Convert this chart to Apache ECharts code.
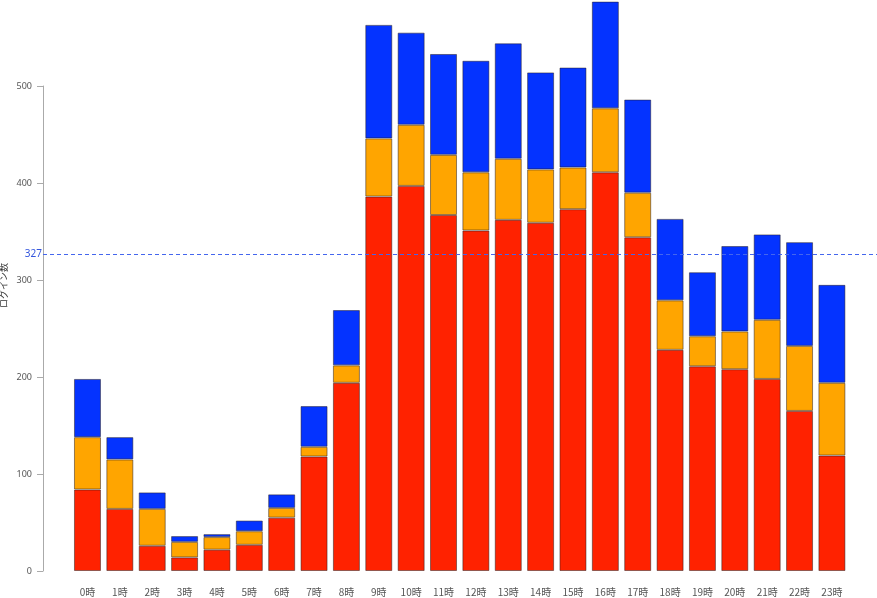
<!DOCTYPE html>
<html>
<head>
<meta charset="utf-8">
<script src="https://cdn.jsdelivr.net/npm/echarts@6/dist/echarts.min.js"></script>
<style>html,body{margin:0;padding:0;background:#fff}#c{width:877px;height:598px}</style>
</head>
<body>
<div id="c"></div>
<script>
const categories = ['0時','1時','2時','3時','4時','5時','6時','7時','8時','9時','10時','11時','12時','13時','14時','15時','16時','17時','18時','19時','20時','21時','22時','23時'];
const redValues    = [84, 64, 26, 14, 22, 27, 55, 118, 194, 386, 397, 367, 351, 362, 359, 373, 411, 344, 228, 211, 208, 198, 165, 119];
const orangeValues = [54, 51, 38, 16, 13, 14, 10, 10, 18, 60, 63, 62, 60, 63, 55, 43, 66, 46, 51, 31, 39, 61, 67, 75];
const blueValues   = [60, 23, 17, 6, 3, 11, 14, 42, 57, 117, 95, 104, 115, 119, 100, 103, 110, 96, 84, 66, 88, 88, 107, 101];
const averageValue = 327;
const yTicks = [0, 100, 200, 300, 400, 500];
const yTopValue = 588.66;

const border = {borderColor: 'rgba(40,30,30,0.5)', borderWidth: 1};
const chart = echarts.init(document.getElementById('c'), null, {renderer: 'canvas'});
chart.setOption({
  animation: false,
  backgroundColor: '#fff',
  grid: [
    {left: 71.3, right: 28.9, top: 0, bottom: 27, outerBoundsMode: 'none', containLabel: false},
    {left: 43, right: 0, top: 86, bottom: 27, outerBoundsMode: 'none', containLabel: false}
  ],
  xAxis: [
    {gridIndex: 0, type: 'category', data: categories,
     axisLine: {show: false}, axisTick: {show: false},
     axisLabel: {color: '#555', fontSize: 10, margin: 16, fontFamily: 'Noto Sans CJK JP', interval: 0}},
    {gridIndex: 1, type: 'value', show: false, min: 0, max: 1}
  ],
  yAxis: [
    {gridIndex: 0, type: 'value', min: 0, max: yTopValue,
     name: 'ログイン数', nameLocation: 'middle', nameGap: 63,
     nameTextStyle: {color: '#333', fontSize: 9, fontFamily: 'Noto Sans CJK JP'},
     axisLine: {show: false}, axisTick: {show: false}, axisLabel: {show: false}, splitLine: {show: false}},
    {gridIndex: 1, type: 'value', min: yTicks[0], max: yTicks[yTicks.length - 1], interval: 100,
     axisLine: {show: true, lineStyle: {color: '#aaa', width: 1}},
     axisTick: {show: true, length: 6, lineStyle: {color: '#aaa'}},
     axisLabel: {color: '#555', fontSize: 9, margin: 11, fontFamily: 'Noto Sans'},
     splitLine: {show: false}}
  ],
  series: [
    {type: 'bar', xAxisIndex: 0, yAxisIndex: 0, stack: 't', data: redValues, barWidth: 27,
     itemStyle: Object.assign({color: '#FF2200'}, border)},
    {type: 'bar', xAxisIndex: 0, yAxisIndex: 0, stack: 't', data: orangeValues, barWidth: 27,
     itemStyle: Object.assign({color: '#FFA500'}, border)},
    {type: 'bar', xAxisIndex: 0, yAxisIndex: 0, stack: 't', data: blueValues, barWidth: 27,
     itemStyle: Object.assign({color: '#0433FF'}, border)},
    {type: 'line', xAxisIndex: 1, yAxisIndex: 1, data: [], silent: true,
     markLine: {symbol: 'none', silent: true,
       lineStyle: {color: '#4466ee', type: [4, 3], width: 1},
       label: {position: 'start', formatter: String(averageValue), color: '#3355dd', fontSize: 10, distance: 1, fontFamily: 'Noto Sans'},
       data: [{yAxis: averageValue}]}}
  ]
});
</script>
</body>
</html>
